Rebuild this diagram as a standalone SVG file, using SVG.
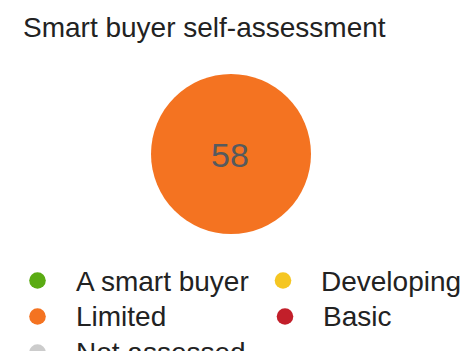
<svg xmlns="http://www.w3.org/2000/svg" width="460" height="351" viewBox="0 0 460 351">
<style>
.t{font-family:"Liberation Sans",Arial,sans-serif;fill:#222}
.title{font-size:28px}
.leg{font-size:28px}
.val{font-family:"Liberation Sans",Arial,sans-serif;font-size:34px;fill:#555a5e}
</style>
<rect width="460" height="351" fill="#fff"/>
<text class="t title" x="23" y="37">Smart buyer self-assessment</text>
<g id="pie">
<circle cx="231" cy="154" r="80" fill="#f47321"/>
<text class="val" x="230" y="167" text-anchor="middle">58</text>
</g>
<g id="legend">
<g id="leg-smart"><circle cx="37.5" cy="280.5" r="8.3" fill="#5aab13"/><text class="t leg" x="76" y="291">A smart buyer</text></g>
<g id="leg-developing"><circle cx="283" cy="280.5" r="8.3" fill="#f5c622"/><text class="t leg" x="321" y="291">Developing</text></g>
<g id="leg-limited"><circle cx="37.5" cy="316.5" r="8.3" fill="#f47321"/><text class="t leg" x="76" y="326">Limited</text></g>
<g id="leg-basic"><circle cx="285" cy="316.5" r="8.3" fill="#c21f2a"/><text class="t leg" x="323" y="326">Basic</text></g>
<g id="leg-not"><circle cx="37.5" cy="352.5" r="8.3" fill="#cccccc"/><text class="t leg" x="76" y="362">Not assessed</text></g>
</g>
</svg>
